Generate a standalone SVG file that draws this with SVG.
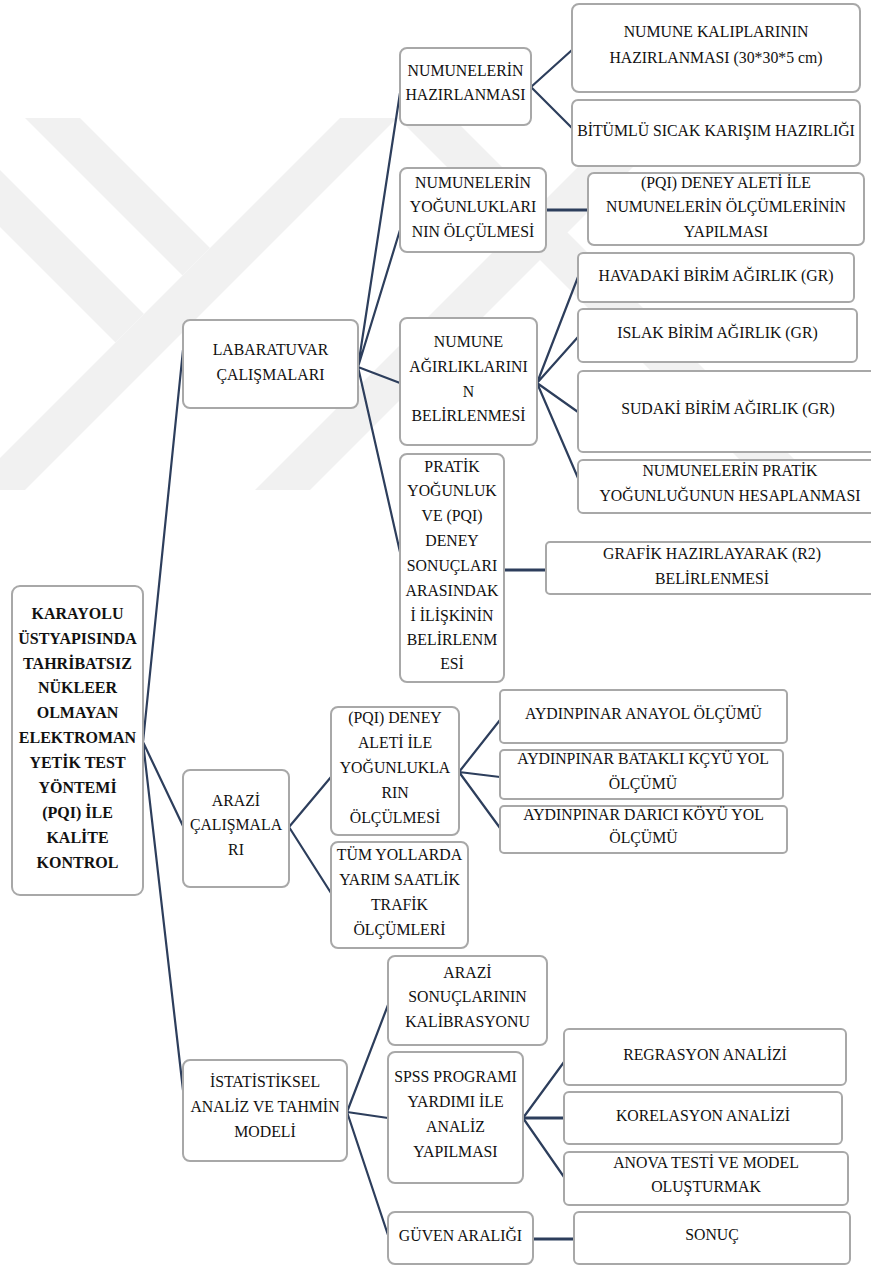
<svg xmlns="http://www.w3.org/2000/svg" width="871" height="1266" viewBox="0 0 871 1266" font-family="Liberation Serif, serif">
<defs>
<style>
.box{fill:#ffffff;stroke:#a8a8a8;stroke-width:2}
text{font-family:Liberation Serif,serif;fill:#111;text-anchor:middle}
.t{font-size:15.8px}
.b{font-size:16px;font-weight:bold}
.c{fill:none;stroke:#2d3e5c;stroke-width:2.2;stroke-linecap:round}
.h{fill:none;stroke:#2d3e5c;stroke-width:3}
.wm{fill:#f1f1f1}
</style>
<clipPath id="wmclip"><rect x="0" y="118" width="871" height="372"/></clipPath>
</defs>
<rect x="0" y="0" width="871" height="1266" fill="#ffffff"/>
<g id="watermark" clip-path="url(#wmclip)">
<polygon class="wm" points="25,118 80,118 210,248 182.5,275.5"/>
<polygon class="wm" points="340,118 397,118 25,490 -32,490"/>
<polygon class="wm" points="0,170 144,314 115.5,342.5 0,227"/>
<polygon class="wm" points="398,118 453,118 825,490 770,490"/>
<polygon class="wm" points="627,118 682,118 310,490 255,490"/>
</g>
<g id="connectors">
<path class="c" d="M143,742 L183,350 M143,742 L183,826 M143,742 L183,1090"/>
<path class="c" d="M358,367 L400,93 M358,367 L400,230 M358,367 L400,383 M358,367 L400,552"/>
<path class="c" d="M531,87 L572,50 M531,87 L572,128"/>
<path class="h" d="M546,210 L588,210"/>
<path class="c" d="M537,383 L578,277 M537,383 L578,337 M537,383 L578,412 M537,383 L578,478"/>
<path class="h" d="M504,570 L546,570"/>
<path class="c" d="M289,827 L331,777 M289,827 L331,893"/>
<path class="c" d="M459,772 L500,720 M459,772 L500,777 M459,772 L500,828"/>
<path class="c" d="M347,1112 L388,1005 M347,1112 L388,1118 M347,1112 L388,1235"/>
<path class="c" d="M523,1118 L564,1062 M523,1118 L564,1177"/>
<path class="h" d="M523,1118 L564,1118"/>
<path class="h" d="M533,1239 L574,1239"/>
</g>
<g id="root" font-family="Liberation Serif, serif">
<rect class="box" x="12" y="586" width="131" height="309" rx="8"/>
<text class="b" x="77.5" y="619">KARAYOLU</text>
<text class="b" x="77.5" y="644">ÜSTYAPISINDA</text>
<text class="b" x="77.5" y="668.5">TAHRİBATSIZ</text>
<text class="b" x="77.5" y="693">NÜKLEER</text>
<text class="b" x="77.5" y="717.5">OLMAYAN</text>
<text class="b" x="77.5" y="742.5">ELEKTROMAN</text>
<text class="b" x="77.5" y="767.5">YETİK TEST</text>
<text class="b" x="77.5" y="792.5">YÖNTEMİ</text>
<text class="b" x="77.5" y="817.5">(PQI) İLE</text>
<text class="b" x="77.5" y="842.5">KALİTE</text>
<text class="b" x="77.5" y="867.5">KONTROL</text>
</g>
<g id="lab">
<rect class="box" x="183" y="320" width="175" height="88" rx="7"/>
<text class="t" x="270.5" y="355">LABARATUVAR</text>
<text class="t" x="270.5" y="379.5">ÇALIŞMALARI</text>
</g>
<g id="arazi">
<rect class="box" x="183" y="770" width="106" height="117" rx="7"/>
<text class="t" x="236" y="805.5">ARAZİ</text>
<text class="t" x="236" y="830">ÇALIŞMALA</text>
<text class="t" x="236" y="855">RI</text>
</g>
<g id="istat">
<rect class="box" x="183" y="1060" width="164" height="101" rx="7"/>
<text class="t" x="265" y="1087">İSTATİSTİKSEL</text>
<text class="t" x="265" y="1112">ANALİZ VE TAHMİN</text>
<text class="t" x="265" y="1137">MODELİ</text>
</g>
<g id="haz">
<rect class="box" x="400" y="48" width="131" height="77" rx="7"/>
<text class="t" x="465.5" y="75.5">NUMUNELERİN</text>
<text class="t" x="465.5" y="100">HAZIRLANMASI</text>
</g>
<g id="yog">
<rect class="box" x="400" y="168" width="146" height="84" rx="7"/>
<text class="t" x="473" y="188">NUMUNELERİN</text>
<text class="t" x="473" y="212">YOĞUNLUKLARI</text>
<text class="t" x="473" y="236.5">NIN ÖLÇÜLMESİ</text>
</g>
<g id="agir">
<rect class="box" x="400" y="318" width="137" height="127" rx="7"/>
<text class="t" x="468.5" y="347">NUMUNE</text>
<text class="t" x="468.5" y="371.5">AĞIRLIKLARINI</text>
<text class="t" x="468.5" y="396.5">N</text>
<text class="t" x="468.5" y="421">BELİRLENMESİ</text>
</g>
<g id="pratik">
<rect class="box" x="400" y="454" width="104" height="228" rx="7"/>
<text class="t" x="452" y="471.5">PRATİK</text>
<text class="t" x="452" y="496">YOĞUNLUK</text>
<text class="t" x="452" y="520.5">VE (PQI)</text>
<text class="t" x="452" y="545.5">DENEY</text>
<text class="t" x="452" y="570.5">SONUÇLARI</text>
<text class="t" x="452" y="595.5">ARASINDAK</text>
<text class="t" x="452" y="620.5">İ İLİŞKİNİN</text>
<text class="t" x="452" y="644.5">BELİRLENM</text>
<text class="t" x="452" y="669">ESİ</text>
</g>
<g id="pqi">
<rect class="box" x="331" y="707" width="128" height="128" rx="7"/>
<text class="t" x="395" y="723">(PQI) DENEY</text>
<text class="t" x="395" y="748">ALETİ İLE</text>
<text class="t" x="395" y="773">YOĞUNLUKLA</text>
<text class="t" x="395" y="798">RIN</text>
<text class="t" x="395" y="823">ÖLÇÜLMESİ</text>
</g>
<g id="tum">
<rect class="box" x="331" y="842" width="137" height="106" rx="7"/>
<text class="t" x="399.5" y="859.5">TÜM YOLLARDA</text>
<text class="t" x="399.5" y="884.5">YARIM SAATLİK</text>
<text class="t" x="399.5" y="909.5">TRAFİK</text>
<text class="t" x="399.5" y="934.5">ÖLÇÜMLERİ</text>
</g>
<g id="arsonuc">
<rect class="box" x="388" y="956" width="159" height="89" rx="7"/>
<text class="t" x="467.5" y="977.5">ARAZİ</text>
<text class="t" x="467.5" y="1002">SONUÇLARININ</text>
<text class="t" x="467.5" y="1027">KALİBRASYONU</text>
</g>
<g id="spss">
<rect class="box" x="388" y="1052" width="135" height="131" rx="7"/>
<text class="t" x="455.5" y="1082">SPSS PROGRAMI</text>
<text class="t" x="455.5" y="1107">YARDIMI İLE</text>
<text class="t" x="455.5" y="1132">ANALİZ</text>
<text class="t" x="455.5" y="1157">YAPILMASI</text>
</g>
<g id="guven">
<rect class="box" x="388" y="1212" width="145" height="52" rx="7"/>
<text class="t" x="460.5" y="1240.5">GÜVEN ARALIĞI</text>
</g>
<g id="kalip">
<rect class="box" x="572" y="4" width="288" height="88" rx="7"/>
<text class="t" x="716" y="37">NUMUNE KALIPLARININ</text>
<text class="t" x="716" y="62.5">HAZIRLANMASI (30*30*5 cm)</text>
</g>
<g id="bitum">
<rect class="box" x="572" y="100" width="288" height="66" rx="6"/>
<text class="t" x="716" y="135.5">BİTÜMLÜ SICAK KARIŞIM HAZIRLIĞI</text>
</g>
<g id="pqiolcum">
<rect class="box" x="588" y="173" width="276" height="72" rx="6"/>
<text class="t" x="726" y="188">(PQI) DENEY ALETİ İLE</text>
<text class="t" x="726" y="212">NUMUNELERİN ÖLÇÜMLERİNİN</text>
<text class="t" x="726" y="236.5">YAPILMASI</text>
</g>
<g id="havada">
<rect class="box" x="578" y="253" width="276" height="49" rx="5"/>
<text class="t" x="716" y="281">HAVADAKİ BİRİM AĞIRLIK (GR)</text>
</g>
<g id="islak">
<rect class="box" x="578" y="309" width="279" height="53" rx="5"/>
<text class="t" x="717.5" y="338">ISLAK BİRİM AĞIRLIK (GR)</text>
</g>
<g id="sudaki">
<rect class="box" x="578" y="371" width="300" height="81" rx="5"/>
<text class="t" x="728" y="413.5">SUDAKİ BİRİM AĞIRLIK (GR)</text>
</g>
<g id="pratikhes">
<rect class="box" x="578" y="460" width="304" height="53" rx="5"/>
<text class="t" x="730" y="476">NUMUNELERİN PRATİK</text>
<text class="t" x="730" y="500.5">YOĞUNLUĞUNUN HESAPLANMASI</text>
</g>
<g id="grafik">
<rect class="box" x="546" y="542" width="332" height="52" rx="4"/>
<text class="t" x="712" y="558.5">GRAFİK HAZIRLAYARAK (R2)</text>
<text class="t" x="712" y="583.5">BELİRLENMESİ</text>
</g>
<g id="anayol">
<rect class="box" x="500" y="690" width="287" height="53" rx="4"/>
<text class="t" x="643.5" y="718.5">AYDINPINAR ANAYOL ÖLÇÜMÜ</text>
</g>
<g id="batakli">
<rect class="box" x="500" y="750" width="283" height="49" rx="4"/>
<text class="t" x="643" y="764">AYDINPINAR BATAKLI KÇYÜ YOL</text>
<text class="t" x="643" y="788.5">ÖLÇÜMÜ</text>
</g>
<g id="darici">
<rect class="box" x="500" y="806" width="287" height="47" rx="4"/>
<text class="t" x="643.5" y="819.5">AYDINPINAR DARICI KÖYÜ YOL</text>
<text class="t" x="643.5" y="843">ÖLÇÜMÜ</text>
</g>
<g id="regr">
<rect class="box" x="564" y="1029" width="282" height="56" rx="5"/>
<text class="t" x="705" y="1059.5">REGRASYON ANALİZİ</text>
</g>
<g id="korel">
<rect class="box" x="564" y="1092" width="278" height="52" rx="5"/>
<text class="t" x="703" y="1120.5">KORELASYON ANALİZİ</text>
</g>
<g id="anova">
<rect class="box" x="564" y="1152" width="284" height="53" rx="5"/>
<text class="t" x="706" y="1168">ANOVA TESTİ VE MODEL</text>
<text class="t" x="706" y="1192">OLUŞTURMAK</text>
</g>
<g id="sonuc">
<rect class="box" x="574" y="1212" width="276" height="52" rx="5"/>
<text class="t" x="712" y="1239.5">SONUÇ</text>
</g>
</svg>
